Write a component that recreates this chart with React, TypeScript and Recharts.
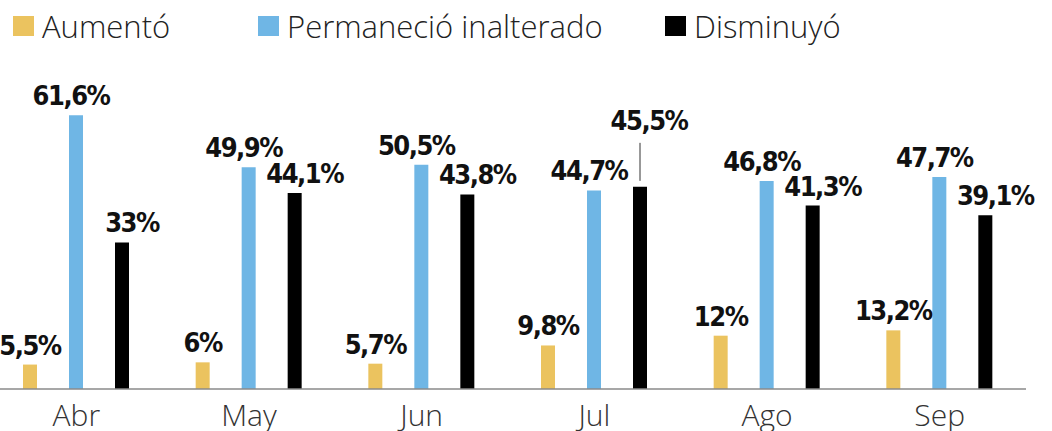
import { BarChart, Bar, XAxis, YAxis, Legend, LabelList } from "recharts";

const categories = ["Abr", "May", "Jun", "Jul", "Ago", "Sep"];
const aumento = [5.5, 6, 5.7, 9.8, 12, 13.2];
const permanecio = [61.6, 49.9, 50.5, 44.7, 46.8, 47.7];
const disminuyo = [33, 44.1, 43.8, 45.5, 41.3, 39.1];

const series = [
  { key: "aumento", name: "Aumentó", color: "#EBC35F", dx: 0, left: 23 },
  { key: "permanecio", name: "Permaneció inalterado", color: "#6FB6E5", dx: -5, left: 268 },
  { key: "disminuyo", name: "Disminuyó", color: "#000000", dx: 10, left: 675 },
];

// labels that need a leader line (would collide with the neighbour bar's label)
const leaderCats: Record<string, string[]> = { disminuyo: ["Jul"] };

const data = categories.map((c, i) => ({
  name: c,
  aumento: aumento[i],
  permanecio: permanecio[i],
  disminuyo: disminuyo[i],
}));

const labelFont = {
  fontFamily: "'DejaVu Sans Condensed', 'DejaVu Sans', sans-serif",
  fontWeight: 700,
  fontSize: 27,
  fontStretch: "condensed",
  letterSpacing: -1.5,
};

const fmt = (v: number) => String(v).replace(".", ",") + "%";

function makeLabel(seriesKey: string, dx: number) {
  return (props: any) => {
    const vb = props.viewBox || {};
    const x = Number(props.x ?? vb.x);
    const y = Number(props.y ?? vb.y);
    const w = Number(props.width ?? vb.width);
    const cx = x + w / 2;
    const txt = fmt(Number(props.value));
    const leader = (leaderCats[seriesKey] || []).includes(categories[props.index]);
    if (leader) {
      return (
        <g>
          <line x1={cx} x2={cx} y1={y - 6} y2={y - 44} stroke="#333" strokeWidth={1} />
          <text x={cx + 9} y={y - 57} textAnchor="middle" fill="#111" style={labelFont}>
            {txt}
          </text>
        </g>
      );
    }
    return (
      <text x={cx + dx} y={y - 10} textAnchor="middle" fill="#111" style={labelFont}>
        {txt}
      </text>
    );
  };
}

function LegendBox() {
  return (
    <div style={{ position: "relative", height: 78, width: 1036 }}>
      {series.map((s) => (
        <div
          key={s.key}
          style={{
            position: "absolute",
            left: s.left,
            top: 5,
            height: 42,
            display: "flex",
            alignItems: "center",
            fontFamily: "'Open Sans', sans-serif",
            fontWeight: 300,
            fontSize: 31,
            color: "#222",
            whiteSpace: "nowrap",
          }}
        >
          <span style={{ display: "inline-block", width: 21, height: 20, background: s.color, marginRight: 8 }} />
          {s.name}
        </div>
      ))}
    </div>
  );
}

export default function App() {
  return (
    <div style={{ position: "absolute", left: -10, top: 0, width: 1062, height: 431 }}>
      <BarChart
        width={1062}
        height={431}
        data={data}
        margin={{ top: 0, right: 26, bottom: 0, left: 0 }}
        barGap={32}
      >
        <Legend verticalAlign="top" content={() => <LegendBox />} />
        <XAxis
          dataKey="name"
          interval={0}
          tickLine={false}
          axisLine={{ stroke: "#8a8a8a", strokeWidth: 1.5 }}
          tick={{ fontSize: 30, fill: "#333", fontFamily: "'Open Sans', sans-serif", fontWeight: 300 }}
          tickMargin={10}
          height={42}
        />
        <YAxis hide domain={[0, 70]} />
        {series.map((s) => (
          <Bar key={s.key} dataKey={s.key} name={s.name} fill={s.color} barSize={14} isAnimationActive={false}>
            <LabelList dataKey={s.key} content={makeLabel(s.key, s.dx)} />
          </Bar>
        ))}
      </BarChart>
    </div>
  );
}
